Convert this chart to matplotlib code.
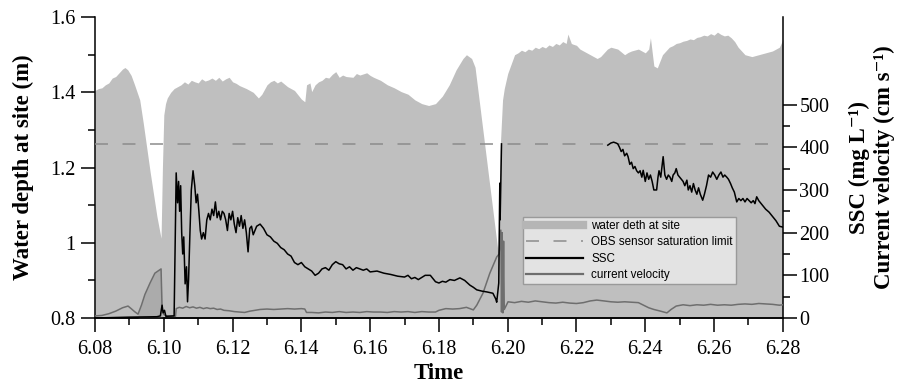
import numpy as np
import matplotlib
matplotlib.use("Agg")
import matplotlib.pyplot as plt
from matplotlib.lines import Line2D
from matplotlib.ticker import MultipleLocator, FuncFormatter

plt.rcParams["font.family"] = ["Liberation Serif", "DejaVu Serif"]

# water depth at site (m)
t_depth = [6.0800, 6.0810, 6.0820, 6.0830, 6.0840, 6.0850, 6.0860, 6.0870, 6.0880, 6.0887,
           6.0895, 6.0905, 6.0915, 6.0930, 6.0940, 6.0950, 6.0960, 6.0970, 6.0980, 6.0992,
           6.0996, 6.1000, 6.1005, 6.1010, 6.1020, 6.1030, 6.1050, 6.1060, 6.1070, 6.1080,
           6.1090, 6.1100, 6.1110, 6.1120, 6.1130, 6.1140, 6.1150, 6.1160, 6.1170, 6.1180,
           6.1190, 6.1200, 6.1210, 6.1220, 6.1240, 6.1260, 6.1275, 6.1285, 6.1300, 6.1310,
           6.1320, 6.1330, 6.1340, 6.1360, 6.1380, 6.1400, 6.1410, 6.1415, 6.1425, 6.1430,
           6.1440, 6.1450, 6.1460, 6.1470, 6.1480, 6.1490, 6.1500, 6.1510, 6.1520, 6.1530,
           6.1550, 6.1560, 6.1570, 6.1590, 6.1600, 6.1610, 6.1630, 6.1650, 6.1670, 6.1690,
           6.1710, 6.1730, 6.1750, 6.1770, 6.1790, 6.1810, 6.1830, 6.1850, 6.1870, 6.1880,
           6.1895, 6.1905, 6.1920, 6.1940, 6.1960, 6.1972, 6.1978, 6.1985, 6.1990, 6.2000,
           6.2010, 6.2020, 6.2030, 6.2040, 6.2050, 6.2060, 6.2070, 6.2080, 6.2090, 6.2100,
           6.2110, 6.2120, 6.2130, 6.2140, 6.2150, 6.2160, 6.2170, 6.2175, 6.2185, 6.2190,
           6.2200, 6.2210, 6.2220, 6.2240, 6.2260, 6.2270, 6.2280, 6.2290, 6.2300, 6.2320,
           6.2340, 6.2350, 6.2360, 6.2380, 6.2400, 6.2410, 6.2415, 6.2425, 6.2435, 6.2450,
           6.2460, 6.2470, 6.2480, 6.2490, 6.2500, 6.2510, 6.2520, 6.2530, 6.2540, 6.2550,
           6.2560, 6.2570, 6.2580, 6.2590, 6.2600, 6.2610, 6.2620, 6.2630, 6.2640, 6.2650,
           6.2660, 6.2670, 6.2690, 6.2710, 6.2730, 6.2750, 6.2770, 6.2790, 6.2800]
depth = [1.405, 1.410, 1.412, 1.420, 1.425, 1.438, 1.442, 1.452, 1.462, 1.466,
         1.460, 1.445, 1.420, 1.380, 1.320, 1.255, 1.190, 1.130, 1.070, 1.012,
         1.200, 1.340, 1.370, 1.385, 1.400, 1.410, 1.420, 1.428, 1.422, 1.432,
         1.428, 1.425, 1.436, 1.430, 1.433, 1.438, 1.432, 1.440, 1.430, 1.436,
         1.440, 1.428, 1.424, 1.418, 1.410, 1.400, 1.385, 1.395, 1.420, 1.428,
         1.432, 1.425, 1.430, 1.415, 1.405, 1.382, 1.375, 1.420, 1.425, 1.402,
         1.420, 1.428, 1.432, 1.440, 1.438, 1.448, 1.455, 1.440, 1.446, 1.442,
         1.440, 1.450, 1.446, 1.452, 1.445, 1.440, 1.432, 1.420, 1.412, 1.402,
         1.395, 1.380, 1.370, 1.365, 1.370, 1.390, 1.420, 1.460, 1.490, 1.500,
         1.490, 1.467, 1.357, 1.210, 1.063, 0.975, 1.250, 1.380, 1.410, 1.450,
         1.475, 1.500, 1.505, 1.512, 1.508, 1.515, 1.512, 1.520, 1.516, 1.522,
         1.518, 1.526, 1.522, 1.530, 1.526, 1.535, 1.530, 1.555, 1.530, 1.528,
         1.525, 1.515, 1.510, 1.500, 1.490, 1.495, 1.505, 1.515, 1.520, 1.515,
         1.500, 1.506, 1.510, 1.515, 1.505, 1.515, 1.545, 1.470, 1.465, 1.500,
         1.510, 1.520, 1.524, 1.530, 1.532, 1.536, 1.538, 1.542, 1.540, 1.546,
         1.548, 1.552, 1.550, 1.556, 1.552, 1.560, 1.554, 1.550, 1.552, 1.545,
         1.535, 1.520, 1.500, 1.495, 1.500, 1.505, 1.510, 1.520, 1.540]

# suspended sediment concentration (mg/L), gap where the OBS was saturated
t_ssc = [6.0800, 6.0900, 6.0980, 6.0990, 6.0995, 6.0998, 6.1002, 6.1006, 6.1030, 6.1036,
         6.1040, 6.1043, 6.1046, 6.1049, 6.1052, 6.1055, 6.1058, 6.1062, 6.1066, 6.1069,
         6.1072, 6.1076, 6.1080, 6.1085, 6.1090, 6.1094, 6.1098, 6.1102, 6.1106, 6.1110,
         6.1115, 6.1120, 6.1125, 6.1130, 6.1135, 6.1140, 6.1145, 6.1150, 6.1155, 6.1160,
         6.1165, 6.1170, 6.1175, 6.1180, 6.1185, 6.1190, 6.1195, 6.1200, 6.1205, 6.1210,
         6.1215, 6.1220, 6.1225, 6.1230, 6.1235, 6.1240, 6.1245, 6.1250, 6.1255, 6.1260,
         6.1270, 6.1280, 6.1290, 6.1300, 6.1310, 6.1320, 6.1330, 6.1340, 6.1350, 6.1360,
         6.1370, 6.1380, 6.1390, 6.1400, 6.1410, 6.1420, 6.1430, 6.1440, 6.1450, 6.1460,
         6.1470, 6.1480, 6.1490, 6.1500, 6.1510, 6.1520, 6.1530, 6.1540, 6.1550, 6.1560,
         6.1570, 6.1580, 6.1590, 6.1600, 6.1620, 6.1640, 6.1660, 6.1680, 6.1700, 6.1710,
         6.1720, 6.1730, 6.1740, 6.1760, 6.1775, 6.1790, 6.1800, 6.1810, 6.1820, 6.1832,
         6.1845, 6.1861, 6.1875, 6.1890, 6.1900, 6.1910, 6.1925, 6.1940, 6.1957, 6.1965,
         6.1968, 6.1974, 6.1977, 6.1978, 6.1980, 6.1982, 6.1990, 6.2280, 6.2291, 6.2300,
         6.2308, 6.2315, 6.2320, 6.2325, 6.2330, 6.2335, 6.2340, 6.2346, 6.2350, 6.2355,
         6.2360, 6.2365, 6.2370, 6.2375, 6.2380, 6.2385, 6.2390, 6.2394, 6.2400, 6.2405,
         6.2410, 6.2415, 6.2420, 6.2425, 6.2433, 6.2437, 6.2440, 6.2445, 6.2452, 6.2457,
         6.2462, 6.2467, 6.2472, 6.2477, 6.2481, 6.2486, 6.2490, 6.2495, 6.2500, 6.2505,
         6.2510, 6.2515, 6.2521, 6.2525, 6.2530, 6.2535, 6.2540, 6.2545, 6.2550, 6.2555,
         6.2560, 6.2567, 6.2572, 6.2578, 6.2584, 6.2590, 6.2596, 6.2602, 6.2608, 6.2614,
         6.2620, 6.2626, 6.2631, 6.2637, 6.2642, 6.2648, 6.2653, 6.2659, 6.2666, 6.2672,
         6.2678, 6.2684, 6.2690, 6.2696, 6.2702, 6.2708, 6.2714, 6.2719, 6.2724, 6.2730,
         6.2740, 6.2750, 6.2760, 6.2770, 6.2780, 6.2790, 6.2800]
ssc = [0, 2, 3, 5, 30, 12, 18, 4, 5, 340,
       270, 320, 250, 310, 200, 150, 190, 80, 120, 38,
       90, 200, 300, 345, 310, 270, 290, 250, 205, 185,
       200, 185, 230, 245, 230, 255, 240, 272, 235, 250,
       230, 250, 245, 230, 205, 245, 230, 250, 220, 200,
       235, 215, 240, 210, 230, 200, 155, 210, 215, 195,
       215, 220, 210, 195, 190, 180, 175, 165, 160, 150,
       145, 130, 125, 130, 120, 115, 110, 100, 105, 115,
       118, 112, 125, 132, 127, 125, 115, 120, 112, 118,
       115, 112, 115, 108, 110, 105, 102, 98, 96, 100,
       92, 95, 90, 100, 100, 85, 82, 86, 84, 90,
       88, 94, 88, 77, 72, 66, 63, 61, 58, 45,
       37, 82, 316, 230, 320, 408, np.nan, np.nan, 405, 410,
       412, 410, 408, 400, 390, 395, 380, 386, 378, 360,
       365, 350, 355, 345, 340, 345, 330, 346, 320, 340,
       325, 335, 320, 300, 300, 330, 345, 330, 378, 335,
       325, 335, 330, 320, 335, 340, 350, 335, 330, 325,
       320, 310, 323, 300, 310, 295, 315, 300, 290, 305,
       290, 276, 290, 310, 335, 330, 342, 335, 325, 335,
       342, 330, 335, 330, 325, 315, 305, 295, 272, 280,
       275, 280, 272, 280, 275, 270, 275, 268, 284, 275,
       265, 255, 248, 238, 228, 215, 213]

# current velocity (cm/s)
t_vel = [6.0800, 6.0820, 6.0840, 6.0860, 6.0880, 6.0896, 6.0905, 6.0915, 6.0925, 6.0935,
         6.0945, 6.0960, 6.0974, 6.0992, 6.0995, 6.1000, 6.1010, 6.1034, 6.1036, 6.1045,
         6.1055, 6.1065, 6.1075, 6.1085, 6.1095, 6.1105, 6.1115, 6.1125, 6.1135, 6.1145,
         6.1155, 6.1165, 6.1175, 6.1190, 6.1205, 6.1220, 6.1235, 6.1250, 6.1265, 6.1280,
         6.1300, 6.1320, 6.1340, 6.1360, 6.1380, 6.1400, 6.1410, 6.1415, 6.1430, 6.1450,
         6.1470, 6.1490, 6.1510, 6.1530, 6.1550, 6.1570, 6.1590, 6.1610, 6.1630, 6.1650,
         6.1670, 6.1690, 6.1710, 6.1730, 6.1750, 6.1770, 6.1790, 6.1800, 6.1820, 6.1840,
         6.1860, 6.1880, 6.1900, 6.1910, 6.1928, 6.1948, 6.1968, 6.1975, 6.1980, 6.1982,
         6.1984, 6.1986, 6.1988, 6.1990, 6.2001, 6.2020, 6.2040, 6.2060, 6.2080, 6.2100,
         6.2120, 6.2140, 6.2160, 6.2180, 6.2200, 6.2220, 6.2240, 6.2259, 6.2280, 6.2300,
         6.2320, 6.2340, 6.2360, 6.2380, 6.2395, 6.2410, 6.2425, 6.2440, 6.2463, 6.2475,
         6.2490, 6.2510, 6.2530, 6.2550, 6.2570, 6.2590, 6.2610, 6.2630, 6.2650, 6.2670,
         6.2690, 6.2710, 6.2730, 6.2750, 6.2770, 6.2790, 6.2800]
velocity = [5, 6, 10, 16, 24, 28, 22, 15, 9, 30,
            55, 82, 105, 115, 22, 8, 4, 4, 22, 25,
            23, 27, 24, 26, 23, 25, 22, 24, 22, 23,
            20, 21, 18, 17, 15, 14, 13, 16, 18, 20,
            21, 20, 21, 22, 21, 22, 21, 13, 13, 12,
            14, 13, 15, 13, 14, 13, 15, 14, 14, 13,
            15, 14, 15, 13, 15, 14, 14, 18, 22, 21,
            22, 25, 19, 30, 58, 105, 143, 150, 206, 14,
            200, 12, 180, 20, 38, 36, 39, 37, 40, 38,
            36, 35, 37, 35, 34, 36, 40, 42, 40, 38,
            37, 38, 37, 36, 30, 24, 20, 17, 12, 20,
            28, 31, 29, 31, 30, 32, 30, 31, 30, 32,
            33, 32, 34, 33, 32, 30, 31]

obs_limit = 407  # OBS sensor saturation limit (mg/L)

fig = plt.figure(figsize=(9.05, 3.89), dpi=100)
ax = fig.add_axes([0.105, 0.1825, 0.76, 0.7735])
ax2 = ax.twinx()

ax.fill_between(t_depth, 0.8, depth, color="#bfbfbf", linewidth=0, zorder=1)
ax.set_xlim(6.08, 6.28)
ax.set_ylim(0.8, 1.6)

t_vel_arr = np.array(t_vel)
ax2.fill_between(t_vel, 0, velocity, where=(t_vel_arr >= 6.0925) & (t_vel_arr <= 6.0995),
                 color="#ababab", linewidth=0, zorder=1)
ax2.axhline(obs_limit, color="#8c8c8c", lw=1.1, ls=(0, (8.5, 9.5)), zorder=2)
ax2.plot(t_vel, velocity, color="#6e6e6e", lw=1.1, zorder=3)
ax2.plot(t_ssc, ssc, color="black", lw=1.1, zorder=4)
ax2.set_ylim(0, 705)

ax.xaxis.set_major_locator(MultipleLocator(0.02))
ax.xaxis.set_minor_locator(MultipleLocator(0.01))
ax.xaxis.set_major_formatter(FuncFormatter(lambda v, p: "%.2f" % v))
ax.yaxis.set_major_locator(MultipleLocator(0.2))
ax.yaxis.set_minor_locator(MultipleLocator(0.1))
ax.yaxis.set_major_formatter(FuncFormatter(lambda v, p: "%g" % round(v, 2)))
ax2.set_yticks([0, 100, 200, 300, 400, 500])
ax2.set_yticks([50, 150, 250, 350, 450], minor=True)

for a in (ax, ax2):
    a.tick_params(which="major", length=10, width=1.1, labelsize=14.5, direction="out")
    a.tick_params(which="minor", length=5, width=1.1, direction="out")
    a.spines["top"].set_visible(False)
    for s in a.spines.values():
        s.set_linewidth(1.1)
ax.spines["right"].set_visible(False)
ax2.spines["left"].set_visible(False)
ax.tick_params(axis="x", pad=6)
ax.tick_params(axis="y", pad=4)
ax2.tick_params(axis="y", pad=2)

ax.set_xlabel("Time", fontsize=16.5, fontweight="bold", labelpad=3)
ax.set_ylabel("Water depth at site (m)", fontsize=16.5, fontweight="bold", labelpad=12)
ax2.set_ylabel("SSC (mg L\u207b\u00b9)\nCurrent velocity (cm s\u207b\u00b9)", fontsize=16.5,
               fontweight="bold", labelpad=14, linespacing=1.2)

handles = [Line2D([], [], color="#b5b5b5", lw=6),
           Line2D([], [], color="#8c8c8c", lw=1.1, ls=(0, (8.5, 9.5))),
           Line2D([], [], color="black", lw=1.6),
           Line2D([], [], color="#6e6e6e", lw=1.6)]
labels = ["water deth at site", "OBS sensor saturation limit", "SSC", "current velocity"]
leg = ax2.legend(handles, labels, loc="lower left", bbox_to_anchor=(0.622, 0.113),
                 borderaxespad=0, frameon=True, fancybox=False, framealpha=1,
                 facecolor="#e3e3e3", edgecolor="#9a9a9a", handlelength=4.9,
                 handletextpad=0.7, borderpad=0.25, labelspacing=0.37,
                 prop={"family": ["Liberation Sans", "DejaVu Sans"], "size": 8.4})
leg.get_frame().set_linewidth(1.0)

fig.savefig("out.png", dpi=100)
